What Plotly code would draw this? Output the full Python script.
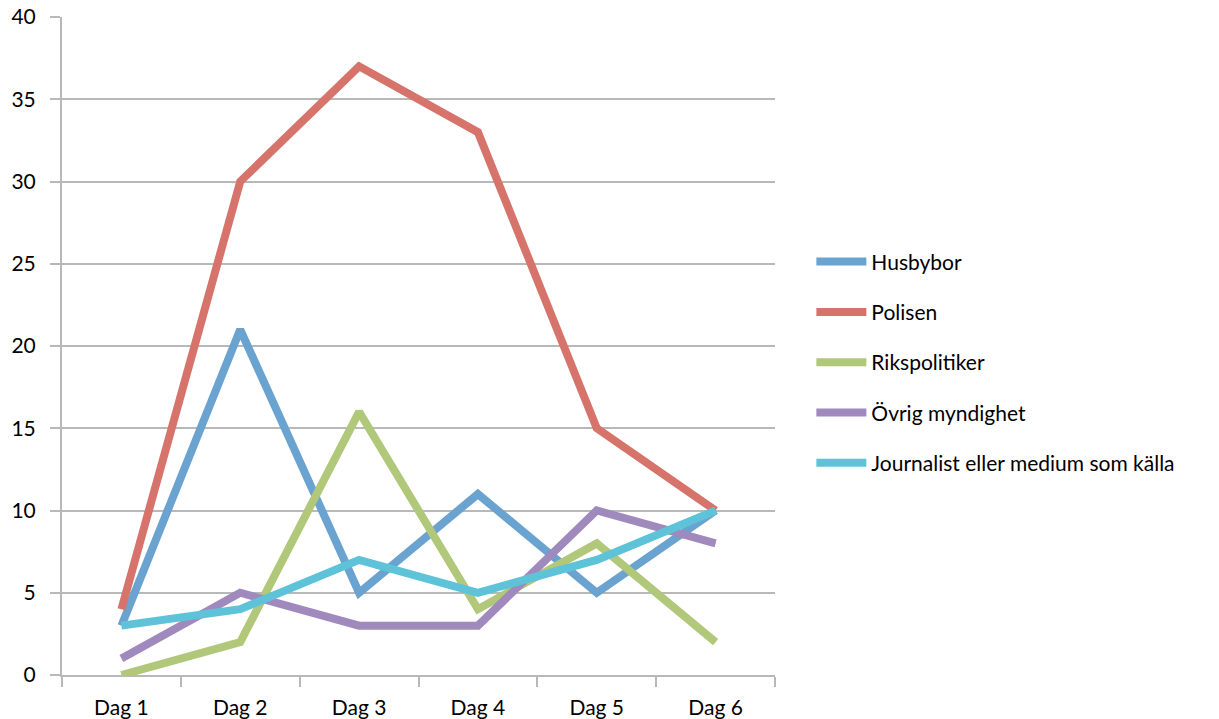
import plotly.graph_objects as go

categories = ["Dag 1", "Dag 2", "Dag 3", "Dag 4", "Dag 5", "Dag 6"]
series_names = ["Husbybor", "Polisen", "Rikspolitiker", "Övrig myndighet",
                "Journalist eller medium som källa"]
husbybor = [3, 21, 5, 11, 5, 10]
polisen = [4, 30, 37, 33, 15, 10]
rikspolitiker = [0, 2, 16, 4, 8, 2]
ovrig = [1, 5, 3, 3, 10, 8]
journalist = [3, 4, 7, 5, 7, 10]
colors = ["#6aa3d0", "#d6736b", "#b1c77a", "#9f89bd", "#5ec3d9"]
y_ticks = [0, 5, 10, 15, 20, 25, 30, 35, 40]

fig = go.Figure()
for i, (name, vals) in enumerate(zip(series_names,
                                     [husbybor, polisen, rikspolitiker, ovrig, journalist])):
    fig.add_trace(go.Scatter(
        x=categories, y=vals, name=name, mode="lines",
        line=dict(color=colors[i], width=8),
        legendgroup=name,
    ))

fig.update_layout(
    width=1219, height=719,
    margin=dict(l=62, r=444, t=17, b=44),
    paper_bgcolor="white", plot_bgcolor="white",
    font=dict(family="Lato, Open Sans, sans-serif", size=21, color="black"),
    showlegend=True,
    legend=dict(x=1.051, y=0.475, xanchor="left", yanchor="middle",
                traceorder="grouped", tracegroupgap=20,
                font=dict(size=21), itemwidth=50),
)
fig.update_xaxes(
    type="category", range=[-0.5, 5.5], tickson="boundaries",
    ticks="outside", ticklen=10, tickcolor="#b8b8b8", tickwidth=2,
    showline=True, linecolor="#b8b8b8", linewidth=2,
    showgrid=False, ticklabelstandoff=13, automargin=False,
    ticklabeloverflow="allow",
)
fig.update_yaxes(
    range=[0, 40], tickvals=y_ticks,
    ticks="outside", ticklen=10, tickcolor="#b8b8b8", tickwidth=2,
    showline=True, linecolor="#b8b8b8", linewidth=2,
    showgrid=True, gridcolor="#b8b8b8", gridwidth=2,
    zeroline=False, ticklabelstandoff=10, automargin=False,
    ticklabeloverflow="allow",
)

fig.write_html("out.html",
               config={"displayModeBar": False},
               post_script="document.body.style.margin='0';document.body.style.overflow='hidden';")
